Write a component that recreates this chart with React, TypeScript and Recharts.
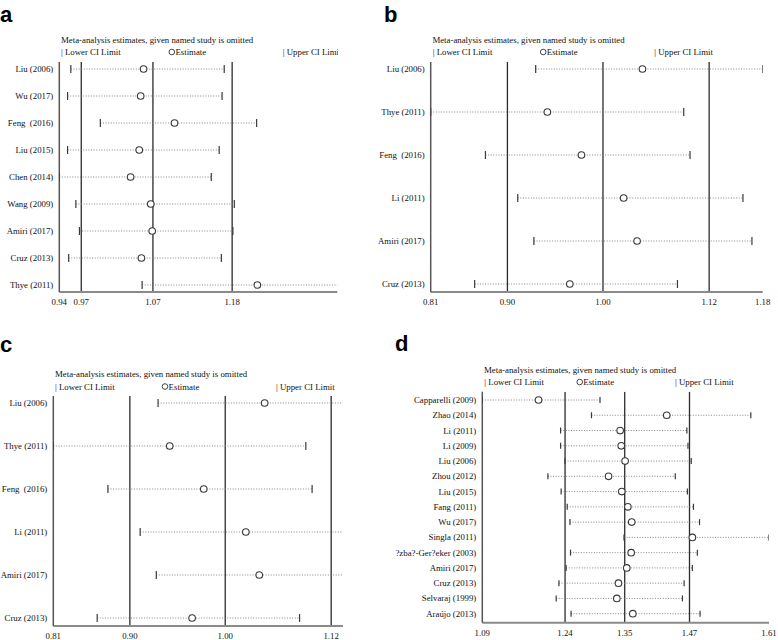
import { ScatterChart, Scatter, XAxis, YAxis, ReferenceLine } from "recharts";

// ---------------------------------------------------------------------------
// Data
// ---------------------------------------------------------------------------

const studiesA = [
  "Liu (2006)",
  "Wu (2017)",
  "Feng\u00a0 (2016)",
  "Liu (2015)",
  "Chen (2014)",
  "Wang (2009)",
  "Amiri (2017)",
  "Cruz (2013)",
  "Thye (2011)",
];
const lowerA = [0.956, 0.9515, 0.997, 0.9515, 0.94, 0.963, 0.968, 0.953, 1.055];
const estimateA = [1.057, 1.053, 1.1, 1.051, 1.039, 1.067, 1.069, 1.054, 1.215];
const upperA = [1.169, 1.166, 1.214, 1.162, 1.151, 1.183, 1.181, 1.165, 1.38];
const overallA = [0.9705, 1.07, 1.18];
const ticksA = [0.94, 0.9705, 1.07, 1.18];

// panels b and c show the same analysis (c is cropped on the right)
const studiesB = [
  "Liu (2006)",
  "Thye (2011)",
  "Feng\u00a0 (2016)",
  "Li (2011)",
  "Amiri (2017)",
  "Cruz (2013)",
];
const lowerB = [0.927, 0.81, 0.871, 0.907, 0.925, 0.859];
const estimateB = [1.046, 0.94, 0.978, 1.025, 1.04, 0.965];
const upperB = [1.18, 1.092, 1.099, 1.158, 1.168, 1.085];
const overallB = [0.8955, 1.002, 1.1203];
const ticksB = [0.81, 0.8955, 1.002, 1.1203, 1.18];
const ticksC = [0.81, 0.8955, 1.002, 1.1203];

const studiesD = [
  "Capparelli (2009)",
  "Zhao (2014)",
  "Li (2011)",
  "Li (2009)",
  "Liu (2006)",
  "Zhou (2012)",
  "Liu (2015)",
  "Fang (2011)",
  "Wu (2017)",
  "Singla (2011)",
  "?zba?-Ger?eker (2003)",
  "Amiri (2017)",
  "Cruz (2013)",
  "Selvaraj (1999)",
  "Araújo (2013)",
];
const lowerD = [1.09, 1.288, 1.232, 1.232, 1.24, 1.209, 1.233, 1.244, 1.249, 1.347, 1.25, 1.242, 1.229, 1.224, 1.251];
const estimateD = [1.192, 1.4245, 1.34, 1.342, 1.349, 1.319, 1.343, 1.354, 1.361, 1.471, 1.36, 1.352, 1.337, 1.334, 1.363];
const upperD = [1.3035, 1.577, 1.461, 1.463, 1.469, 1.44, 1.462, 1.473, 1.484, 1.61, 1.48, 1.471, 1.456, 1.453, 1.485];
const overallD = [1.2401, 1.3483, 1.4658];
const ticksD = [1.09, 1.2401, 1.3483, 1.4658, 1.61];

// ---------------------------------------------------------------------------
// Styles
// ---------------------------------------------------------------------------

const SERIF = "'Liberation Serif', 'Times New Roman', serif";
const SANS = "'Liberation Sans', Arial, sans-serif";
const FS = 8.8;
const TITLE = "Meta-analysis estimates, given named study is omitted";

// ---------------------------------------------------------------------------
// Panel
// ---------------------------------------------------------------------------

interface PanelProps {
  letter: string;
  letterPos: { x: number; y: number };
  studies: string[];
  lower: number[];
  estimate: number[];
  upper: number[];
  overall: number[];
  ticks: number[];
  domain: [number, number];
  box: { x: number; y: number; w: number; h: number };
  plot: { l: number; r: number; t: number; b: number };
  pad: { top: number; bottom: number };
  titleY: number;
  legendY: number;
  legendOffsets: [number, number, number];
  cap: number;
}

function Panel(p: PanelProps) {
  const { box, plot } = p;
  const n = p.studies.length;
  const rows = p.studies.map((_, i) => [
    { x: p.lower[i], y: i },
    { x: p.upper[i], y: i },
  ]);
  const estimates = p.estimate.map((v, i) => ({ x: v, y: i }));

  const capShape = (props: any) => (
    <line
      x1={props.cx}
      x2={props.cx}
      y1={props.cy - p.cap / 2}
      y2={props.cy + p.cap / 2}
      stroke="#3a3a3a"
      strokeWidth={1.2}
    />
  );
  const circleShape = (props: any) => (
    <circle cx={props.cx} cy={props.cy} r={3.3} fill="#fff" stroke="#3a3a3a" strokeWidth={1.1} />
  );
  // plain label, no wrapping
  const studyTick = (props: any) => (
    <text
      x={props.x}
      y={props.y}
      textAnchor="end"
      dominantBaseline="central"
      fontFamily={SERIF}
      fontSize={FS}
      fill="#111"
    >
      {p.studies[props.payload.value] ?? ""}
    </text>
  );

  const lx = plot.l - box.x;
  const ty = p.titleY - box.y;
  const ly = p.legendY - box.y;

  return (
    <div
      style={{
        position: "absolute",
        left: box.x,
        top: box.y,
        width: box.w,
        height: box.h,
        overflow: "hidden",
      }}
    >
      <ScatterChart
        width={box.w}
        height={box.h}
        margin={{ top: plot.t - box.y, right: box.x + box.w - plot.r, bottom: 0, left: 0 }}
      >
        <XAxis
          type="number"
          dataKey="x"
          domain={p.domain}
          allowDataOverflow
          ticks={p.ticks}
          interval={0}
          tickFormatter={(v: number) => v.toFixed(2)}
          tick={{ fontSize: FS, fill: "#111", fontFamily: SERIF }}
          tickLine={false}
          tickSize={0}
          tickMargin={7}
          axisLine={{ stroke: "#8a8a8a", strokeWidth: 2 }}
          height={box.y + box.h - plot.b}
        />
        <YAxis
          type="number"
          dataKey="y"
          domain={[0, n - 1]}
          reversed
          ticks={p.studies.map((_, i) => i)}
          interval={0}
          padding={p.pad}
          tick={studyTick}
          tickLine={false}
          tickSize={0}
          tickMargin={6}
          axisLine={{ stroke: "#555", strokeWidth: 1.5 }}
          width={plot.l - box.x}
        />
        {p.overall.map((v) => (
          <ReferenceLine key={v} x={v} stroke="#2b2b2b" strokeWidth={1.3} ifOverflow="hidden" />
        ))}
        {rows.map((d, i) => (
          <Scatter
            key={i}
            data={d}
            fill="#777"
            line={{ stroke: "#7a7a7a", strokeWidth: 0.9, strokeDasharray: "1 1.6" }}
            shape={capShape}
            isAnimationActive={false}
          />
        ))}
        <Scatter data={estimates} fill="#fff" shape={circleShape} isAnimationActive={false} />
      </ScatterChart>
      <svg
        width={box.w}
        height={box.h}
        style={{ position: "absolute", left: 0, top: 0, pointerEvents: "none" }}
      >
        <text
          x={p.letterPos.x - box.x}
          y={p.letterPos.y - box.y}
          fontFamily={SANS}
          fontWeight="bold"
          fontSize={22}
          fill="#000"
        >
          {p.letter}
        </text>
        <text x={lx + 1.7} y={ty} dominantBaseline="central" fontFamily={SERIF} fontSize={FS} fill="#111">
          {TITLE}
        </text>
        <text
          x={lx + p.legendOffsets[0]}
          y={ly}
          dominantBaseline="central"
          fontFamily={SERIF}
          fontSize={FS}
          fill="#111"
        >
          | Lower CI Limit
        </text>
        <circle cx={lx + p.legendOffsets[1]} cy={ly} r={2.8} fill="#fff" stroke="#333" strokeWidth={0.9} />
        <text
          x={lx + p.legendOffsets[1] + 3.6}
          y={ly}
          dominantBaseline="central"
          fontFamily={SERIF}
          fontSize={FS}
          fill="#111"
        >
          Estimate
        </text>
        <text
          x={lx + p.legendOffsets[2]}
          y={ly}
          dominantBaseline="central"
          fontFamily={SERIF}
          fontSize={FS}
          fill="#111"
        >
          | Upper CI Limit
        </text>
      </svg>
    </div>
  );
}

// ---------------------------------------------------------------------------
// App
// ---------------------------------------------------------------------------

export default function App() {
  return (
    <div
      style={{
        position: "absolute",
        left: 0,
        top: 0,
        width: 778,
        height: 640,
        background: "#fff",
        overflow: "hidden",
      }}
    >
      <Panel
        letter="a"
        letterPos={{ x: 0, y: 22 }}
        studies={studiesA}
        lower={lowerA}
        estimate={estimateA}
        upper={upperA}
        overall={overallA}
        ticks={ticksA}
        domain={[0.94, 1.326]}
        box={{ x: 0, y: 0, w: 338, h: 320 }}
        plot={{ l: 59.3, r: 337.3, t: 62, b: 292 }}
        pad={{ top: 7, bottom: 7 }}
        titleY={40}
        legendY={52}
        legendOffsets={[1.7, 112.5, 223.5]}
        cap={8}
      />
      <Panel
        letter="b"
        letterPos={{ x: 384, y: 22 }}
        studies={studiesB}
        lower={lowerB}
        estimate={estimateB}
        upper={upperB}
        overall={overallB}
        ticks={ticksB}
        domain={[0.81, 1.18]}
        box={{ x: 362, y: 0, w: 416, h: 320 }}
        plot={{ l: 430.7, r: 762.7, t: 62, b: 292 }}
        pad={{ top: 7, bottom: 8 }}
        titleY={40}
        legendY={52}
        legendOffsets={[2, 112.5, 223.6]}
        cap={8}
      />
      <Panel
        letter="c"
        letterPos={{ x: 0, y: 352 }}
        studies={studiesB}
        lower={lowerB}
        estimate={estimateB}
        upper={upperB}
        overall={overallB}
        ticks={ticksC}
        domain={[0.81, 1.1335]}
        box={{ x: 0, y: 320, w: 344, h: 320 }}
        plot={{ l: 53.3, r: 343, t: 396, b: 626 }}
        pad={{ top: 7, bottom: 8 }}
        titleY={374}
        legendY={386.5}
        legendOffsets={[1.7, 111.7, 222.7]}
        cap={8}
      />
      <Panel
        letter="d"
        letterPos={{ x: 395, y: 351 }}
        studies={studiesD}
        lower={lowerD}
        estimate={estimateD}
        upper={upperD}
        overall={overallD}
        ticks={ticksD}
        domain={[1.09, 1.61]}
        box={{ x: 366, y: 320, w: 412, h: 320 }}
        plot={{ l: 482.3, r: 769, t: 391.7, b: 622.7 }}
        pad={{ top: 8.3, bottom: 9 }}
        titleY={370}
        legendY={382}
        legendOffsets={[2, 97.4, 192.7]}
        cap={6}
      />
    </div>
  );
}
